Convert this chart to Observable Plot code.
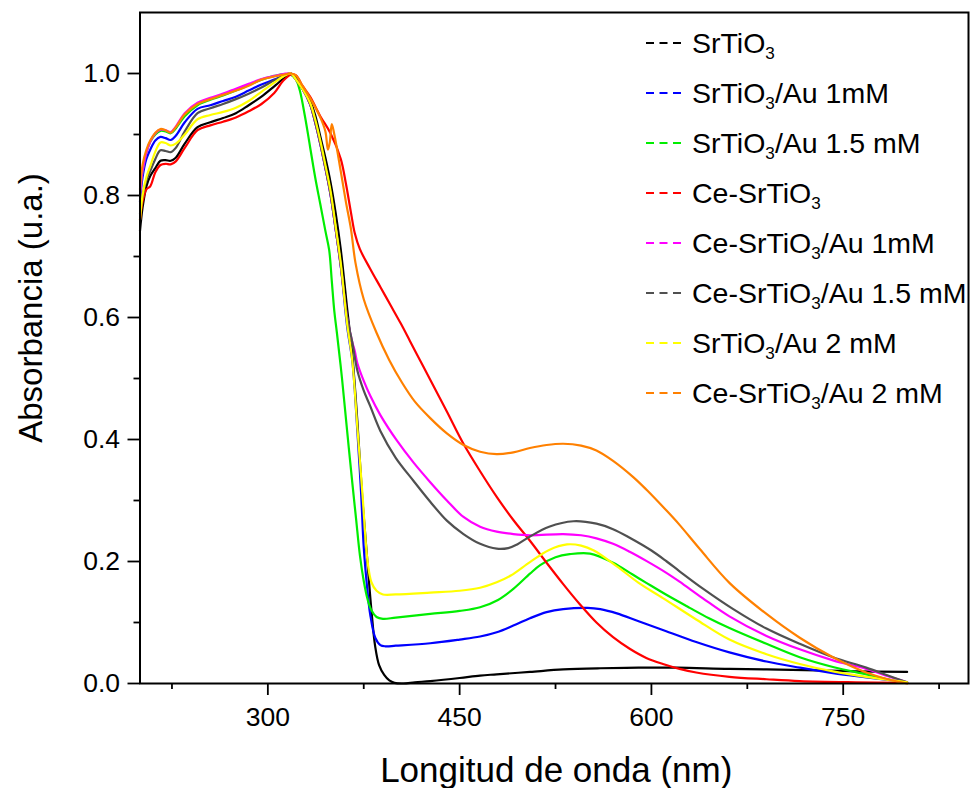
<!DOCTYPE html>
<html><head><meta charset="utf-8">
<script src="https://cdn.jsdelivr.net/npm/d3@7"></script>
<script src="https://cdn.jsdelivr.net/npm/@observablehq/plot@0.6"></script>
<style>
body{margin:0;background:#fff;}
#wrap{position:relative;width:972px;height:788px;font-family:"Liberation Sans",Arial,sans-serif;}
.leg{position:absolute;left:646px;display:flex;align-items:center;height:40px;font-size:28.5px;color:#000;white-space:nowrap;}
.leg svg{margin-right:11px;}
.leg sub{font-size:0.6em;vertical-align:-0.38em;line-height:0;}
</style></head><body><div id="wrap"></div>
<script>
// ---- data (wavelength nm, absorbance) ----
const srtio3 = [[200,0.742],[202,0.78],[205,0.815],[208,0.832],[212,0.845],[216,0.857],[220,0.858],[224,0.857],[228,0.862],[235,0.885],[245,0.912],[255,0.92],[265,0.927],[275,0.935],[285,0.948],[295,0.962],[305,0.979],[312,0.991],[318,1.0],[322,0.993],[327,0.977],[333,0.955],[337,0.932],[341,0.897],[345,0.862],[349,0.822],[353,0.772],[357,0.712],[362,0.615],[366,0.54],[370,0.43],[374,0.30],[378,0.196],[381,0.12],[384,0.06],[387,0.03],[391,0.014],[395,0.005],[399,0.001],[406,0.0],[415,0.002],[427,0.004],[450,0.009],[466,0.013],[479,0.015],[505,0.019],[531,0.023],[560,0.025],[590,0.026],[620,0.026],[661,0.024],[720,0.022],[760,0.02],[800,0.019]];
const srtio3Au1 = [[200,0.79],[202,0.83],[205,0.86],[208,0.875],[212,0.89],[216,0.896],[220,0.894],[224,0.891],[228,0.898],[235,0.92],[245,0.942],[255,0.948],[265,0.955],[275,0.962],[285,0.972],[295,0.982],[305,0.99],[312,0.996],[318,1.0],[322,0.99],[327,0.975],[333,0.95],[337,0.92],[341,0.885],[345,0.845],[349,0.802],[353,0.745],[357,0.685],[362,0.585],[366,0.53],[368,0.48],[370,0.414],[373,0.31],[375,0.223],[378,0.15],[380,0.114],[384,0.075],[388,0.063],[392,0.061],[400,0.062],[427,0.066],[450,0.072],[466,0.077],[479,0.084],[492,0.095],[505,0.107],[518,0.117],[531,0.122],[550,0.124],[560,0.122],[573,0.115],[590,0.102],[610,0.087],[635,0.068],[661,0.051],[690,0.036],[716,0.026],[742,0.017],[768,0.01],[800,0.002]];
const srtio3Au15 = [[200,0.80],[202,0.84],[205,0.87],[208,0.888],[212,0.9],[216,0.906],[220,0.905],[224,0.902],[228,0.91],[235,0.93],[245,0.948],[255,0.957],[265,0.964],[275,0.972],[285,0.981],[295,0.99],[305,0.996],[312,0.999],[318,0.998],[322,0.99],[325,0.972],[329,0.93],[333,0.88],[337,0.83],[341,0.786],[345,0.742],[348,0.71],[350,0.66],[352,0.61],[354,0.575],[358,0.5],[362,0.414],[366,0.33],[369,0.27],[372,0.21],[375,0.168],[378,0.138],[381,0.12],[385,0.109],[390,0.106],[400,0.108],[427,0.114],[450,0.119],[466,0.125],[480,0.137],[492,0.155],[505,0.18],[513,0.194],[525,0.207],[536,0.212],[552,0.213],[570,0.198],[585,0.179],[596,0.165],[612,0.145],[630,0.124],[645,0.107],[661,0.091],[690,0.065],[716,0.043],[742,0.027],[768,0.015],[785,0.007],[800,0.002]];
const ceSrtio3 = [[200,0.76],[202,0.79],[205,0.81],[208,0.815],[212,0.838],[216,0.85],[220,0.852],[224,0.851],[228,0.856],[235,0.878],[245,0.907],[255,0.915],[265,0.921],[275,0.928],[285,0.938],[295,0.95],[305,0.968],[312,0.988],[318,0.998],[322,0.997],[327,0.98],[333,0.962],[341,0.93],[349,0.902],[357,0.86],[361,0.82],[365,0.772],[368,0.738],[372,0.712],[380,0.68],[388,0.65],[396,0.62],[404,0.59],[411,0.562],[419,0.53],[427,0.498],[440,0.446],[453,0.393],[466,0.348],[479,0.306],[492,0.268],[505,0.234],[518,0.198],[531,0.163],[544,0.13],[557,0.1],[570,0.076],[583,0.057],[596,0.042],[609,0.032],[622,0.024],[635,0.018],[661,0.011],[690,0.007],[716,0.004],[760,0.002],[800,0.001]];
const ceSrtio3Au1 = [[200,0.80],[202,0.84],[205,0.87],[208,0.888],[212,0.902],[216,0.908],[220,0.907],[224,0.904],[228,0.913],[235,0.935],[245,0.952],[255,0.96],[265,0.967],[275,0.975],[285,0.983],[295,0.991],[305,0.996],[312,0.999],[318,1.0],[322,0.99],[327,0.975],[333,0.95],[337,0.92],[341,0.885],[345,0.845],[349,0.802],[353,0.745],[357,0.685],[362,0.6],[366,0.56],[368,0.545],[370,0.525],[375,0.496],[380,0.472],[388,0.44],[401,0.398],[414,0.362],[427,0.33],[440,0.3],[453,0.273],[466,0.257],[479,0.249],[492,0.245],[505,0.243],[531,0.245],[545,0.243],[557,0.238],[570,0.229],[583,0.216],[596,0.201],[612,0.181],[622,0.167],[640,0.14],[661,0.11],[690,0.078],[716,0.056],[742,0.038],[768,0.024],[785,0.012],[800,0.002]];
const ceSrtio3Au15 = [[200,0.77],[202,0.8],[205,0.825],[208,0.84],[212,0.86],[216,0.874],[220,0.873],[224,0.871],[228,0.878],[235,0.905],[245,0.935],[255,0.943],[265,0.95],[275,0.958],[285,0.967],[295,0.977],[305,0.989],[312,0.996],[318,1.0],[322,0.99],[327,0.975],[333,0.95],[337,0.92],[341,0.885],[345,0.845],[349,0.802],[353,0.745],[357,0.685],[362,0.6],[366,0.56],[370,0.513],[375,0.48],[380,0.455],[388,0.414],[400,0.37],[414,0.332],[427,0.298],[440,0.267],[453,0.245],[466,0.229],[479,0.221],[488,0.222],[495,0.228],[505,0.241],[520,0.257],[539,0.266],[557,0.262],[570,0.253],[583,0.239],[600,0.218],[612,0.2],[622,0.184],[640,0.156],[664,0.122],[690,0.09],[716,0.065],[742,0.043],[768,0.026],[785,0.013],[800,0.002]];
const srtio3Au2 = [[200,0.76],[202,0.8],[205,0.83],[208,0.848],[212,0.872],[216,0.887],[220,0.886],[224,0.882],[228,0.885],[235,0.9],[245,0.925],[255,0.932],[265,0.937],[275,0.944],[285,0.955],[295,0.97],[305,0.985],[312,0.995],[318,1.0],[322,0.99],[327,0.975],[333,0.952],[337,0.925],[341,0.89],[345,0.85],[349,0.808],[353,0.75],[357,0.69],[362,0.59],[366,0.53],[370,0.42],[374,0.31],[378,0.2],[381,0.166],[385,0.152],[390,0.146],[400,0.146],[427,0.149],[450,0.152],[466,0.157],[479,0.166],[490,0.177],[505,0.199],[520,0.219],[534,0.228],[545,0.226],[555,0.218],[573,0.192],[590,0.165],[609,0.14],[635,0.105],[661,0.072],[690,0.048],[716,0.032],[742,0.02],[768,0.011],[800,0.002]];
const ceSrtio3Au2 = [[200,0.81],[202,0.85],[205,0.875],[208,0.89],[212,0.903],[216,0.909],[220,0.907],[224,0.903],[228,0.912],[235,0.933],[245,0.95],[255,0.958],[265,0.965],[275,0.972],[285,0.98],[295,0.99],[305,0.995],[312,0.998],[318,1.0],[322,0.997],[327,0.98],[333,0.96],[341,0.928],[345,0.905],[347,0.875],[348.5,0.888],[350,0.917],[352,0.9],[357,0.84],[361,0.79],[365,0.745],[368.5,0.69],[375,0.63],[385,0.575],[395,0.53],[405,0.493],[415,0.462],[427,0.435],[440,0.41],[453,0.391],[466,0.38],[479,0.376],[492,0.379],[505,0.386],[518,0.391],[531,0.393],[545,0.39],[557,0.382],[570,0.365],[586,0.338],[596,0.318],[612,0.283],[622,0.26],[638,0.22],[661,0.165],[690,0.114],[716,0.075],[742,0.043],[768,0.018],[785,0.007],[800,0.0]];

const seriesNames = ["SrTiO3","SrTiO3/Au 1mM","SrTiO3/Au 1.5 mM","Ce-SrTiO3","Ce-SrTiO3/Au 1mM","Ce-SrTiO3/Au 1.5 mM","SrTiO3/Au 2 mM","Ce-SrTiO3/Au 2 mM"];
const seriesColors = ["#000000","#0000ff","#00ee00","#ff0000","#ff00ff","#505050","#ffff00","#ff8000"];
const seriesData = [srtio3, srtio3Au1, srtio3Au15, ceSrtio3, ceSrtio3Au1, ceSrtio3Au15, srtio3Au2, ceSrtio3Au2];
const xMajor = [300, 450, 600, 750];
const xMinor = [225, 375, 525, 675, 825];
const yMajor = [0, 0.2, 0.4, 0.6, 0.8, 1.0];
const yMinor = [0.1, 0.3, 0.5, 0.7, 0.9];
const xTitle = "Longitud de onda (nm)";
const yTitle = "Absorbancia (u.a.)";

const lines = seriesData.map((d, i) => Plot.line(d, {
  x: p => p[0], y: p => p[1], stroke: seriesColors[i], strokeWidth: 2.2, curve: "catmull-rom"
}));

const plot = Plot.plot({
  width: 972, height: 788,
  marginLeft: 139.5, marginRight: 4, marginTop: 12, marginBottom: 105,
  style: {fontFamily: "'Liberation Sans', Arial, sans-serif", fontSize: "26px", color: "#000", background: "#fff"},
  x: {domain: [200, 848]},
  y: {domain: [0, 1.1]},
  marks: [
    ...lines,
    Plot.axisX({ticks: xMajor, tickSize: 12, tickPadding: 12, strokeWidth: 1.8, label: null, tickFormat: "d", fontSize: 26.5}),
    Plot.axisX({ticks: xMinor, tickSize: 6, strokeWidth: 1.8, label: null, text: null}),
    Plot.axisY({ticks: yMajor, tickSize: 12, tickPadding: 8, strokeWidth: 1.8, label: null, tickFormat: d3.format(".1f"), fontSize: 26.5}),
    Plot.axisY({ticks: yMinor, tickSize: 6, strokeWidth: 1.8, label: null, text: null}),
    Plot.frame({stroke: "#000", strokeWidth: 2}),
    Plot.text([xTitle], {frameAnchor: "bottom", lineAnchor: "middle", textAnchor: "middle", dy: 87, dx: 2, fontSize: 35}),
    Plot.text([yTitle], {frameAnchor: "left", lineAnchor: "middle", textAnchor: "middle", rotate: -90, dx: -109, dy: -40, fontSize: 33})
  ]
});
const wrap = document.getElementById("wrap");
wrap.appendChild(plot);

seriesNames.forEach((name, i) => {
  const row = document.createElement("div");
  row.className = "leg";
  row.style.top = (43 + 50 * i - 20) + "px";
  row.innerHTML = `<svg width="35" height="4"><line x1="0" y1="2" x2="35" y2="2" stroke="${seriesColors[i]}" stroke-width="2.2" stroke-dasharray="8 5.5"/></svg><span>${name.replace("O3", "O<sub>3</sub>")}</span>`;
  wrap.appendChild(row);
});
</script></body></html>
